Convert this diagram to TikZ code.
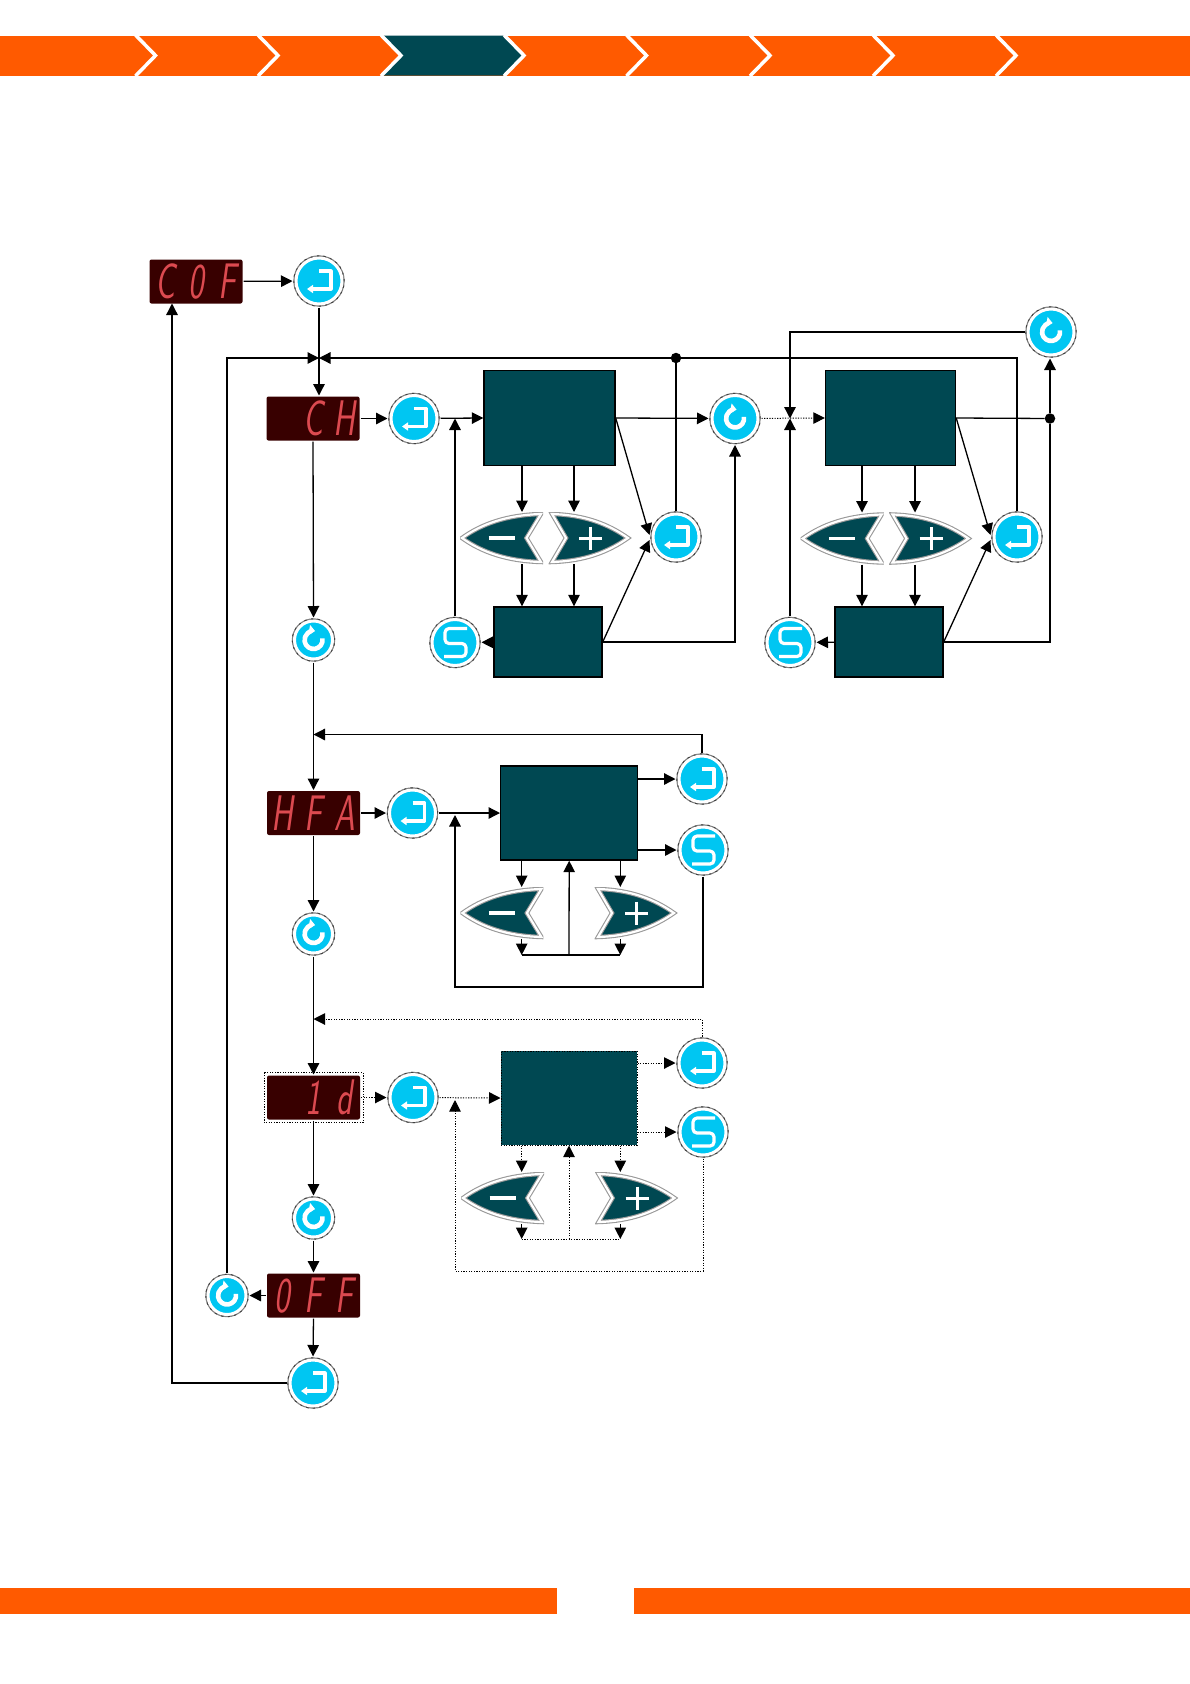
\documentclass[tikz,border=0pt]{standalone}
\usepackage{fontspec}
\usepackage{xcolor}
\usetikzlibrary{arrows.meta}
\definecolor{barorange}{HTML}{FF5A00}
\definecolor{panelc}{HTML}{004852}
\definecolor{keycy}{HTML}{00C6F2}
\definecolor{dispc}{HTML}{380000}
\definecolor{segc}{HTML}{DC4A50}
\tikzset{
  ln/.style={line width=1.3pt},
  arr/.style={line width=1.3pt,-{Triangle[length=11.5pt,width=11.5pt]}},
  dotl/.style={line width=1pt,dash pattern=on 1.2pt off 1.4pt},
  darr/.style={dotl,-{Triangle[length=11.5pt,width=11.5pt]}},
  chev/.style={draw=white,line width=3.5pt},
  disp/.style={rectangle,rounded corners=2pt,fill=dispc,text=segc,inner sep=0pt,outer sep=1pt,minimum width=93pt,minimum height=44pt,font=\fontsize{50}{50}\selectfont\sffamily\slshape},
  panel/.style={rectangle,fill=panelc,draw=black,line width=1.4pt,inner sep=0pt},
  dot/.style={circle,fill=black,inner sep=0pt,minimum size=10.5pt},
  keyb/.style={circle,inner sep=0pt,minimum size=46pt,fill=keycy,draw=white,line width=3pt,outer sep=3.5pt,preaction={draw=gray,line width=5.4pt},preaction={draw=black!75,line width=5.4pt,dash pattern=on 2pt off 4pt}},
  icon/.style={draw=white,line width=3.2pt,line join=round},
  enterk/.style={keyb,path picture={\begin{scope}[shift={(path picture bounding box.center)}]
    \draw[icon,-{Triangle[length=6pt,width=8pt]}] (0,-10) -- (12,-10) -- (12,8) -- (-12,8);
    \end{scope}}},
  selk/.style={keyb,path picture={\begin{scope}[shift={(path picture bounding box.center)}]
    \draw[icon,rounded corners=4pt] (12,-14) -- (-10,-14) -- (-10,1) -- (11,1) -- (11,14) -- (-11,14);
    \end{scope}}},
  rotk/.style={keyb,path picture={\begin{scope}[shift={(path picture bounding box.center)},scale=#1]
    \draw[icon,line width=4.6pt,-{Triangle[length=6pt,width=10pt]}] (8.9,-1.6) arc[start angle=-10,end angle=280,radius=9];
    \end{scope}}},
  rotk/.default=1,
  rots/.style={rotk=.85,minimum size=38pt},
  keyshape/.style={rectangle,inner sep=0pt,outer sep=0pt,minimum width=83pt,minimum height=52pt},
  minusk/.style={keyshape,path picture={\begin{scope}[shift={(path picture bounding box.center)}]
    \draw[draw=gray!80,line width=4.4pt,fill=panelc] (-39.5,0) .. controls (-20,-14) and (5,-23) .. (39.5,-24) -- (25,0) -- (39.5,24) .. controls (5,23) and (-20,14) .. (-39.5,0) -- cycle;
    \draw[draw=white,line width=2.2pt] (-39.5,0) .. controls (-20,-14) and (5,-23) .. (39.5,-24) -- (25,0) -- (39.5,24) .. controls (5,23) and (-20,14) .. (-39.5,0) -- cycle;
    \draw[draw=white,line width=3.6pt] (-13,0) -- (13,0);
    \end{scope}}},
  plusk/.style={keyshape,path picture={\begin{scope}[shift={(path picture bounding box.center)}]
    \draw[draw=gray!80,line width=4.4pt,fill=panelc] (38,0) .. controls (18,-14) and (-5,-23) .. (-38,-24) -- (-24,0) -- (-38,24) .. controls (-5,23) and (18,14) .. (38,0) -- cycle;
    \draw[draw=white,line width=2.2pt] (38,0) .. controls (18,-14) and (-5,-23) .. (-38,-24) -- (-24,0) -- (-38,24) .. controls (-5,23) and (18,14) .. (38,0) -- cycle;
    \draw[draw=white,line width=3pt] (-11,0) -- (12,0) (.5,-11.5) -- (.5,11.5);
    \end{scope}}}
}
\newcommand{\segs}[3]{\makebox[31pt]{\scalebox{.66}[1]{#1}}\makebox[31pt]{\scalebox{.66}[1]{#2}}\makebox[31pt]{\scalebox{.66}[1]{#3}}}

\begin{document}
\begin{tikzpicture}[x=1pt,y=-1pt]
\useasboundingbox (0,0) rectangle (1190,1684);
\fill[barorange] (0,35.5) rectangle (1190,75.5);
\fill[panelc] (381,35.5) -- (401.5,55.5) -- (381,75.5) -- (503.5,75.5) -- (524,55.5) -- (503.5,35.5) -- cycle;
\draw[chev] (135.5,35) -- (155.5,55.5) -- (135.5,76); \draw[chev] (258,35) -- (278,55.5) -- (258,76);
\draw[chev] (381,35) -- (401,55.5) -- (381,76); \draw[chev] (504,35) -- (524,55.5) -- (504,76);
\draw[chev] (626.5,35) -- (646.5,55.5) -- (626.5,76); \draw[chev] (750,35) -- (770,55.5) -- (750,76);
\draw[chev] (873,35) -- (893,55.5) -- (873,76); \draw[chev] (996,35) -- (1016,55.5) -- (996,76);
\fill[barorange] (0,1588) rectangle (557,1614); \fill[barorange] (634,1588) rectangle (1190,1614);

\node[disp] (dcof) at (196,281.5) {\segs{C}{0}{F}};
\node[disp] (dch) at (313,418.5) {\segs{}{C}{H}};
\node[disp] (dhfa) at (313.5,813) {\segs{H}{F}{A}};
\node[disp] (did) at (313.5,1097.5) {\segs{}{1}{d}};
\node[disp] (doff) at (313.5,1295.5) {\segs{0}{F}{F}};

\node[enterk] (ekof) at (319,281) {}; \node[enterk] (ekch) at (414,418.5) {};
\node[enterk] (eka) at (676,537) {}; \node[enterk] (ekb) at (1017,537) {};
\node[enterk] (ekh) at (412.5,813) {}; \node[enterk] (ekhr) at (702,779) {};
\node[enterk] (eki) at (413,1097.5) {}; \node[enterk] (ekir) at (702,1063) {};
\node[enterk] (ekoff) at (313,1383) {};
\node[selk] (ska) at (455,642.5) {}; \node[selk] (skb) at (790,642.5) {};
\node[selk] (skh) at (703,850) {}; \node[selk] (ski) at (703,1132) {};
\node[rotk] (rka) at (735,418.5) {}; \node[rotk] (rkb) at (1051,332) {};
\node[rots] (rk1) at (313.5,640) {}; \node[rots] (rk2) at (313.5,934) {};
\node[rots] (rk3) at (313.5,1218) {}; \node[rots] (rk4) at (227,1295.5) {};

\node[panel,minimum width=131pt,minimum height=94.5pt] (pna) at (549.5,418) {};
\node[panel,minimum width=130pt,minimum height=94.5pt] (pnb) at (890.5,418) {};
\node[panel,minimum width=137pt,minimum height=94pt] (pnh) at (569.2,813) {};
\node[panel,dotl,minimum width=136pt,minimum height=94pt] (pni) at (569,1098) {};
\node[panel,minimum width=108pt,minimum height=70pt] (loa) at (548,642) {};
\node[panel,minimum width=108pt,minimum height=70pt] (lob) at (889,642) {};

\node[minusk] (mna) at (501.5,538) {}; \node[plusk] (pla) at (590,538) {};
\node[minusk] (mnb) at (842.2,538.5) {}; \node[plusk] (plb) at (930.5,538.5) {};
\node[minusk] (mnh) at (501.9,913) {}; \node[plusk] (plh) at (636,913) {};
\node[minusk] (mni) at (502.5,1198) {}; \node[plusk] (pli) at (636.5,1198) {};

\node[dot] (dta) at (676,358) {}; \node[dot] (dtb) at (1050,418.5) {};
\coordinate (jn) at (319,358); \coordinate (ca) at (522,0); \coordinate (cb) at (574,0);
\coordinate (cc) at (862,0); \coordinate (cd) at (915,0);
\coordinate (cm) at (521.7,0); \coordinate (cp) at (620.3,0);
\coordinate (bsh) at (569,955); \coordinate (bsi) at (569,1239);

\draw[arr] (dcof) -- (ekof);
\draw[arr] (ekof.south) -- (ekof |- dch.north);
\draw[arr] (dch) -- (ekch);
\draw[arr] (ekch) -- (pna.west);
\draw[arr] (ska.north) -- (ska |- ekch.east);
\draw[arr] (pna.east) -- (rka);
\draw[arr] (pna.east) -- ([yshift=2pt]eka.west);
\draw[arr] (loa.east) -- ([yshift=-3pt]eka.west);
\draw[arr] (pna.south -| ca) -- (mna.north -| ca); \draw[arr] (pna.south -| cb) -- (pla.north -| cb);
\draw[arr] (mna.south -| ca) -- (loa.north -| ca); \draw[arr] (pla.south -| cb) -- (loa.north -| cb);
\draw[arr] (loa) -- (ska);
\draw[arr] (loa.east) -| (rka.south);
\draw[ln] (eka.north) -- (dta);
\draw[darr] (rka) -- (pnb.west);
\draw[arr] (rkb.west) -| (skb |- rka.east);
\draw[arr] (skb.north) -- (skb |- rka.east);
\draw[arr] (pnb.east) -- ([yshift=2pt]ekb.west);
\draw[arr] (lob.east) -- ([yshift=-3pt]ekb.west);
\draw[ln] (pnb.east) -- (dtb);
\draw[ln] (lob.east) -| (dtb);
\draw[arr] (dtb) -- (dtb |- rkb.south);
\draw[arr] (pnb.south -| cc) -- (mnb.north -| cc); \draw[arr] (pnb.south -| cd) -- (plb.north -| cd);
\draw[arr] (mnb.south -| cc) -- (lob.north -| cc); \draw[arr] (plb.south -| cd) -- (lob.north -| cd);
\draw[arr] (lob) -- (skb);
\draw[arr] (ekb.north) |- (jn);
\draw[arr] (rk4.north) |- (jn);

\draw[arr] (dch.south) -- (rk1.north);
\draw[arr] (rk1.south) -- (dhfa.north);
\draw[arr] (ekhr.north) |- (dhfa.north |- 0,734.5);
\draw[arr] (dhfa) -- (ekh);
\draw[arr] (ekh) -- (pnh.west);
\draw[arr] (pnh.east |- ekhr) -- (ekhr);
\draw[arr] (pnh.east |- skh) -- (skh);
\draw[arr] (skh.south) |- (455,987) -- (455,815);
\draw[arr] (pnh.south -| cm) -- (mnh.north -| cm); \draw[arr] (pnh.south -| cp) -- (plh.north -| cp);
\draw[arr] (mnh.south -| cm) -- (bsh -| cm); \draw[arr] (plh.south -| cp) -- (bsh -| cp);
\draw[ln] (bsh -| cm) -- (bsh -| cp);
\draw[arr] (bsh) -- (pnh.south);

\draw[arr] (dhfa.south) -- (rk2.north);
\draw[arr] (rk2.south) -- (did.north);
\draw[darr] (ekir.north) |- (did.north |- 0,1019);
\draw[dotl] ([shift={(-2,-2)}]did.north west) rectangle ([shift={(2,2)}]did.south east);
\draw[darr] (did) -- (eki);
\draw[darr] (eki) -- (pni.west);
\draw[darr] (pni.east |- ekir) -- (ekir);
\draw[darr] (pni.east |- ski) -- (ski);
\draw[darr] (ski.south) |- (455,1271) -- (455,1100);
\draw[darr] (pni.south -| cm) -- (mni.north -| cm); \draw[darr] (pni.south -| cp) -- (pli.north -| cp);
\draw[arr] (mni.south -| cm) -- (bsi -| cm); \draw[arr] (pli.south -| cp) -- (bsi -| cp);
\draw[dotl] (bsi -| cm) -- (bsi -| cp);
\draw[darr] (bsi) -- (pni.south);

\draw[arr] (did.south) -- (rk3.north);
\draw[arr] (rk3.south) -- (doff.north);
\draw[arr] (doff) -- (rk4);
\draw[arr] (doff.south) -- (ekoff.north);
\draw[arr] (ekoff.west) -| (172,303.5);
\end{tikzpicture}
\end{document}
